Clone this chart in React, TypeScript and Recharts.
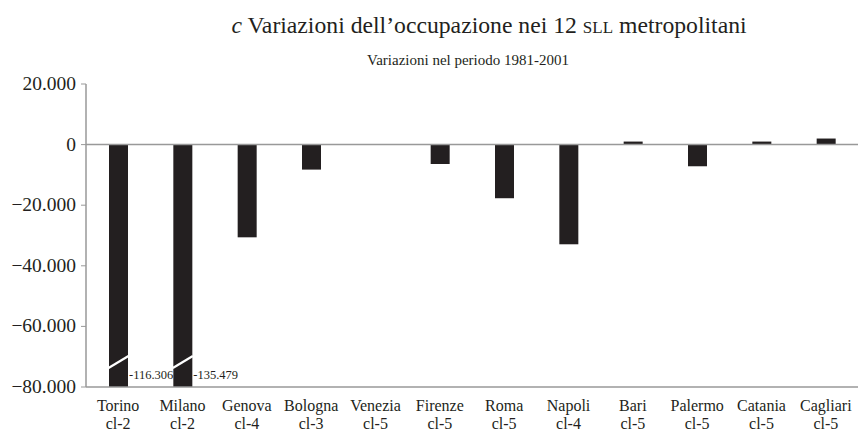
import { BarChart, Bar, XAxis, YAxis, ReferenceLine } from 'recharts';

const cities = ['Torino', 'Milano', 'Genova', 'Bologna', 'Venezia', 'Firenze', 'Roma', 'Napoli', 'Bari', 'Palermo', 'Catania', 'Cagliari'];
const clusters = ['cl-2', 'cl-2', 'cl-4', 'cl-3', 'cl-5', 'cl-5', 'cl-5', 'cl-4', 'cl-5', 'cl-5', 'cl-5', 'cl-5'];
const variations = [-116306, -135479, -30600, -8250, 0, -6400, -17700, -32900, 1000, -7150, 1000, 2000];
const yTicks = [20000, 0, -20000, -40000, -60000, -80000];

const data = cities.map((city, i) => ({ city, cluster: clusters[i], value: variations[i] }));

const FONT = 'Liberation Serif, DejaVu Serif, serif';
const INK = '#231f20';
const AXIS = '#999999';

function group(v: number) {
  return String(Math.abs(Math.round(v))).replace(/\B(?=(\d{3})+(?!\d))/g, '.');
}

const fmtTick = (v: number) => (v < 0 ? '\u2212' : '') + group(v);

// bar that gets cut at the bottom of the plot, with a break mark and its real value
function BrokenBar(props: any) {
  const { x, y, width, height, background, payload, fill } = props;
  let top = y;
  let h = height;
  if (h < 0) {
    top = y + h;
    h = -h;
  }
  const bottom = background ? background.y + background.height : top + h;
  const overflow = top + h > bottom + 0.5;
  const drawnH = overflow ? bottom - top : h;
  return (
    <g>
      <rect x={x} y={top} width={width} height={Math.max(0, drawnH)} fill={fill} />
      {overflow && (
        <>
          <line x1={x - 0.5} y1={bottom - 19} x2={x + width + 0.5} y2={bottom - 31} stroke="#fff" strokeWidth={2.2} />
          <text x={x + width + 1} y={bottom - 8} style={{ fontFamily: FONT, fontSize: 12.5 }} fill={INK}>
            {'-' + group(payload.value)}
          </text>
        </>
      )}
    </g>
  );
}

function CityTick(props: any) {
  const { x, y, payload, index } = props;
  return (
    <text x={x} y={y} textAnchor="middle" style={{ fontFamily: FONT, fontSize: 16 }} fill={INK}>
      <tspan x={x} dy={16}>{payload.value}</tspan>
      <tspan x={x} dy={18}>{clusters[index]}</tspan>
    </text>
  );
}

function ValueTick(props: any) {
  const { x, y, payload } = props;
  return (
    <text x={x} y={y} dy={6} textAnchor="end" style={{ fontFamily: FONT, fontSize: 19.5 }} fill={INK}>
      {fmtTick(payload.value)}
    </text>
  );
}

export default function App() {
  return (
    <div style={{ position: 'absolute', left: 0, top: 0, width: 859, height: 432, background: '#fff', fontFamily: FONT, color: INK }}>
      <div style={{ position: 'absolute', left: 139, top: 10, width: 700, textAlign: 'center', fontSize: 23.7, lineHeight: '30px' }}>
        <i>c</i> Variazioni dell’occupazione nei 12 <span style={{ fontVariant: 'small-caps' }}>sll</span> metropolitani
      </div>
      <div style={{ position: 'absolute', left: 318, top: 50, width: 300, textAlign: 'center', fontSize: 15, lineHeight: '20px' }}>
        Variazioni nel periodo 1981-2001
      </div>
      <BarChart
        width={859}
        height={432}
        data={data}
        margin={{ top: 84, right: 1, bottom: 0, left: 0 }}
        barSize={19}
      >
        <XAxis
          dataKey="city"
          interval={0}
          tickLine={false}
          axisLine={{ stroke: AXIS, strokeWidth: 1.5 }}
          tick={<CityTick />}
          height={45}
        />
        <YAxis
          width={86}
          domain={[-80000, 20000]}
          ticks={yTicks}
          allowDataOverflow
          tickSize={5}
          tickMargin={5}
          tickLine={{ stroke: AXIS }}
          axisLine={{ stroke: AXIS, strokeWidth: 1.5 }}
          tick={<ValueTick />}
        />
        <ReferenceLine y={0} stroke={AXIS} strokeWidth={1.5} />
        <Bar dataKey="value" fill={INK} shape={<BrokenBar />} isAnimationActive={false} />
      </BarChart>
    </div>
  );
}
